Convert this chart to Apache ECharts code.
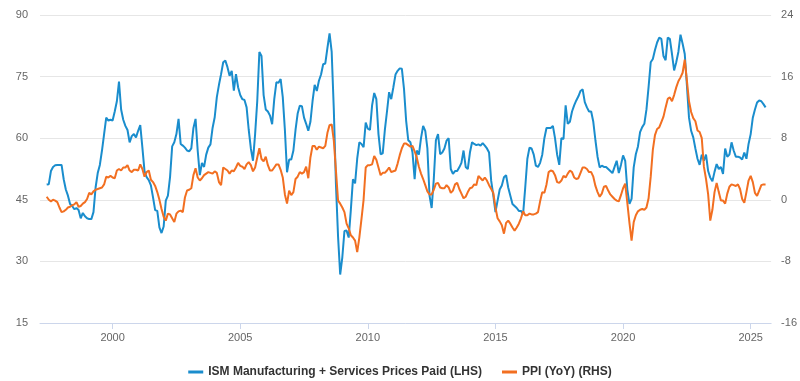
<!DOCTYPE html>
<html>
<head>
<meta charset="utf-8">
<script src="https://cdn.jsdelivr.net/npm/echarts@6/dist/echarts.min.js"></script>
<style>
  html, body { margin: 0; padding: 0; background: #ffffff; }
  #chart { width: 800px; height: 381px; }
</style>
</head>
<body>
<div id="chart"></div>
<script>
// Monthly series, first month = June 1997
const startYear = 1997;
const startMonth = 6;

const seriesNames = ['ISM Manufacturing + Services Prices Paid (LHS)', 'PPI (YoY) (RHS)'];
const xTickYears = [2000, 2005, 2010, 2015, 2020, 2025];
const leftTicks = [15, 30, 45, 60, 75, 90];
const rightTicks = [-16, -8, 0, 8, 16, 24];

const ismPricesPaid = [
  48.7, 48.8, 52, 53, 53.4, 53.5, 53.5,                              // 1997 Jun-Dec
  53.5, 50, 47.5, 46, 44, 43.5, 42.7, 43, 42.5, 40.5, 41.8, 41,       // 1998
  40.5, 40.3, 40.3, 42, 48, 51.5, 53.5, 57, 61, 65, 64.3, 64.5,       // 1999
  64.3, 66.5, 69, 73.8, 67, 64.5, 63, 62, 59, 60.5, 61, 60.2,         // 2000
  61.8, 63.2, 57.7, 52, 50.5, 49.8, 48.5, 45.6, 42.5, 42.3, 38.3, 36.9, // 2001
  38.5, 44.8, 46, 50.5, 58, 59, 61, 64.7, 58.6, 58.2, 57.7, 57,       // 2002
  56.8, 57.5, 62.5, 64.7, 57, 51, 54, 53, 56, 57.7, 58.5, 62.5,       // 2003
  65.1, 70, 73, 75.6, 78.5, 78.9, 77.3, 75.2, 76.4, 71.6, 75.6, 72.4, // 2004
  70.5, 69.5, 69.3, 67.5, 62, 57.5, 54.5, 61, 69, 81, 80, 70.5,       // 2005
  67, 66.5, 65.5, 63.4, 69.5, 73.6, 73.5, 74.4, 70, 62, 51.7, 54.8,   // 2006
  54.8, 57, 62, 66, 67.9, 67.8, 65, 63.5, 61.8, 64, 69, 73,           // 2007
  71.5, 74, 75.5, 78, 78.2, 82, 85.5, 81, 67, 48.8, 36, 26.8,         // 2008
  31, 37.4, 37.5, 35.8, 42.5, 50, 49, 55, 59, 58.6, 57.8, 63.8,       // 2009
  62.3, 62, 68, 71, 69.5, 61, 56.1, 56.3, 62, 66.5, 71.2, 69.5,       // 2010
  72.4, 75.5, 76.4, 77, 76.9, 72, 64.3, 59.5, 59, 56.5, 50, 57,       // 2011
  56, 60, 63, 61.8, 57.5, 46, 43, 50, 59.5, 61, 56.1, 56.5,           // 2012
  57.5, 59.4, 60, 52.5, 51.3, 52, 52, 52.9, 54, 57, 53, 52.5,         // 2013
  56.5, 59, 58.6, 58.3, 58.5, 58.2, 58.8, 58.2, 57.5, 56.5, 49.6, 46, // 2014
  42, 44.8, 47.5, 48.5, 50.5, 51, 48, 46, 44, 43.5, 43, 42.3,         // 2015
  42.3, 41.5, 48, 55, 57.7, 57.5, 56, 53.3, 53, 54, 56, 60,           // 2016
  62.5, 62.5, 62.5, 63, 60, 56, 53.5, 60, 59.8, 68, 63.5, 64,         // 2017
  66.5, 68, 69.2, 70.2, 71.5, 71.9, 68.8, 67.5, 66.5, 66.5, 64, 59.5, // 2018
  55.5, 52.9, 53.3, 53, 53, 52.5, 52, 51.5, 53, 54.5, 51.5, 53.5,     // 2019
  55.8, 54.5, 47.5, 44, 45.2, 52.9, 56.1, 58, 61.5, 62.7, 63.5, 67,   // 2020
  72.5, 78.5, 79.3, 81.5, 83.3, 84.5, 84.2, 80, 79, 84.5, 84.2, 80.5, // 2021
  76.5, 78.5, 81, 85.2, 83, 80.5, 73, 65, 61.8, 60.2, 57.5, 55,       // 2022
  53.5, 56, 54.5, 56, 52, 50.4, 49.5, 51.8, 53.7, 52.5, 53, 51.3,     // 2023
  57.5, 55.5, 56, 59, 57, 55.5, 55.5, 55.3, 54.8, 56.5, 55, 58.6,     // 2024
  61, 65, 67, 68.7, 69.2, 69, 68.3, 67.5                              // 2025 Jan-Aug
];

const ppiYoY = [
  0.4, 0, -0.2, 0, -0.1, -0.3, -1.0,                                  // 1997 Jun-Dec
  -1.6, -1.5, -1.3, -1.0, -0.9, -0.7, -0.6, -0.3, -0.9, -0.8, -0.5, -0.3, // 1998
  0.1, 0.9, 0.7, 1.1, 1.3, 1.4, 1.5, 1.6, 2.0, 3.0, 2.9, 3.1,         // 1999
  2.9, 2.8, 3.8, 4.0, 3.8, 4.2, 4.2, 4.5, 3.8, 3.6, 3.9, 3.9,         // 2000
  3.8, 4.6, 4.0, 3.0, 3.6, 3.8, 2.6, 2.3, 1.8, 1.0, 0.0, -1.2,        // 2001
  -2.2, -2.7, -1.8, -1.9, -2.4, -2.9, -1.8, -1.5, -1.4, -1.6, 0.3, 1.2, // 2002
  1.3, 1.5, 3.2, 4.1, 2.9, 2.5, 2.8, 3.2, 3.4, 3.6, 3.5, 3.4,         // 2003
  3.7, 3.5, 2.3, 1.9, 4.2, 4.0, 3.8, 3.4, 3.8, 3.7, 4.2, 4.8,         // 2004
  4.4, 4.3, 4.0, 4.6, 4.9, 4.5, 3.7, 4.2, 5.5, 6.7, 5.3, 5.0,         // 2005
  5.6, 4.5, 3.8, 3.8, 4.2, 4.6, 4.6, 3.9, 2.9, 0.7, -0.5, 1.2,        // 2006
  0.6, 1.0, 2.7, 3.0, 3.6, 3.4, 3.6, 4.3, 2.8, 5.5, 7.0, 7.0,         // 2007
  6.5, 6.9, 6.8, 6.7, 7.0, 8.7, 9.7, 9.8, 7.7, 3.8, -0.1, -0.5,       // 2008
  -1.0, -1.6, -3.1, -3.7, -4.6, -4.9, -5.3, -6.8, -4.9, -2.5, 0.0, 4.2, // 2009
  4.5, 4.5, 4.6, 5.7, 5.2, 4.2, 3.2, 3.5, 3.5, 3.8, 4.2, 3.6,         // 2010
  3.7, 3.8, 4.7, 5.8, 6.7, 7.3, 7.3, 7.1, 6.9, 7.0, 6.3, 5.5,         // 2011
  4.3, 3.4, 2.7, 1.9, 1.1, 0.7, 0.7, 1.3, 2.1, 2.2, 1.6, 1.5,         // 2012
  1.5, 1.9, 1.6, 0.9, 1.2, 2.0, 2.2, 1.4, 0.8, 0.2, 0.4, 1.0,         // 2013
  1.5, 1.6, 2.0, 1.9, 3.1, 2.8, 2.5, 2.9, 2.5, 1.9, 1.4, 0.9,         // 2014
  -1.0, -2.4, -2.8, -3.3, -4.4, -3.0, -2.7, -3.1, -3.6, -4.0, -3.6, -3.1, // 2015
  -2.4, -1.5, -2.0, -2.0, -1.8, -1.9, -1.9, -1.8, -1.6, -0.2, 1.0, 0.9, // 2016
  2.0, 3.6, 3.8, 3.7, 3.2, 2.3, 2.2, 2.5, 3.1, 2.9, 3.4, 3.8,         // 2017
  3.6, 2.9, 2.7, 2.8, 3.5, 4.2, 4.2, 4.0, 3.6, 3.6, 3.0, 1.8,         // 2018
  1.0, 0.4, 0.8, 1.7, 1.8, 1.2, 0.7, 0.4, 0.1, -0.1, -0.2, 0.6,       // 2019
  1.5, 2.1, -0.4, -3.0, -5.3, -2.9, -2.0, -1.5, -1.3, -1.2, -1.3, -1.0, // 2020
  0.2, 3.0, 6.5, 8.4, 9.2, 9.4, 10.1, 10.8, 12.0, 13.1, 13.3, 12.8,   // 2021
  13.6, 14.6, 15.4, 15.9, 16.5, 18.2, 15.5, 12.8, 11.4, 10.6, 10.2, 9.0, // 2022
  8.8, 8.0, 4.3, 2.7, 0.7, -2.7, -1.3, 1.0, 2.2, 1.0, -0.1, -0.1,     // 2023
  -0.5, 0.8, 1.7, 2.0, 1.9, 1.8, 2.0, 1.4, 0.1, -0.4, 1.0, 2.5,       // 2024
  3.1, 2.3, 0.9, 0.5, 1.2, 1.9, 2.0, 2.0                              // 2025 Jan-Aug
];

function monthTime(i) {
  return startYear + (startMonth - 1 + i) / 12;
}
const ismData = ismPricesPaid.map((v, i) => [monthTime(i), v]);
const ppiData = ppiYoY.map((v, i) => [monthTime(i), v]);

const chart = echarts.init(document.getElementById('chart'), null, { renderer: 'canvas' });
const labelFont = 'Liberation Sans, Arial, sans-serif';

chart.setOption({
  animation: false,
  backgroundColor: '#ffffff',
  color: ['#1a8dcd', '#f26f21'],
  grid: { left: 40, right: 28, top: 15, bottom: 58, containLabel: false },
  xAxis: {
    type: 'value',
    min: 1997.155,
    max: 2025.80,
    axisLine: { show: true, onZero: false, lineStyle: { color: '#ccd6eb', width: 1 } },
    axisTick: { show: true, customValues: xTickYears, length: 6, lineStyle: { color: '#ccd6eb' } },
    axisLabel: { customValues: xTickYears, color: '#666666', fontSize: 11, fontFamily: labelFont, margin: 9,
                 formatter: v => String(Math.round(v)) },
    splitLine: { show: false }
  },
  yAxis: [
    {
      type: 'value', position: 'left', min: leftTicks[0], max: leftTicks[leftTicks.length - 1], interval: 15,
      axisLine: { show: false }, axisTick: { show: false },
      axisLabel: { color: '#666666', fontSize: 11, fontFamily: labelFont, margin: 12 },
      splitLine: { show: true, lineStyle: { color: '#e6e6e6', width: 1 } }
    },
    {
      type: 'value', position: 'right', min: rightTicks[0], max: rightTicks[rightTicks.length - 1], interval: 8,
      axisLine: { show: false }, axisTick: { show: false },
      axisLabel: { color: '#666666', fontSize: 11, fontFamily: labelFont, margin: 10 },
      splitLine: { show: false }
    }
  ],
  legend: {
    top: 361,
    left: 'center',
    icon: 'rect',
    itemWidth: 15,
    itemHeight: 3,
    itemGap: 20,
    textStyle: { color: '#333333', fontSize: 12, fontWeight: 'bold', fontFamily: labelFont },
    data: seriesNames
  },
  series: [
    {
      name: seriesNames[0], type: 'line', yAxisIndex: 0, data: ismData,
      showSymbol: false, symbol: 'none', lineStyle: { width: 2 }, z: 2
    },
    {
      name: seriesNames[1], type: 'line', yAxisIndex: 1, data: ppiData,
      showSymbol: false, symbol: 'none', lineStyle: { width: 2 }, z: 3
    }
  ]
});
</script>
</body>
</html>
